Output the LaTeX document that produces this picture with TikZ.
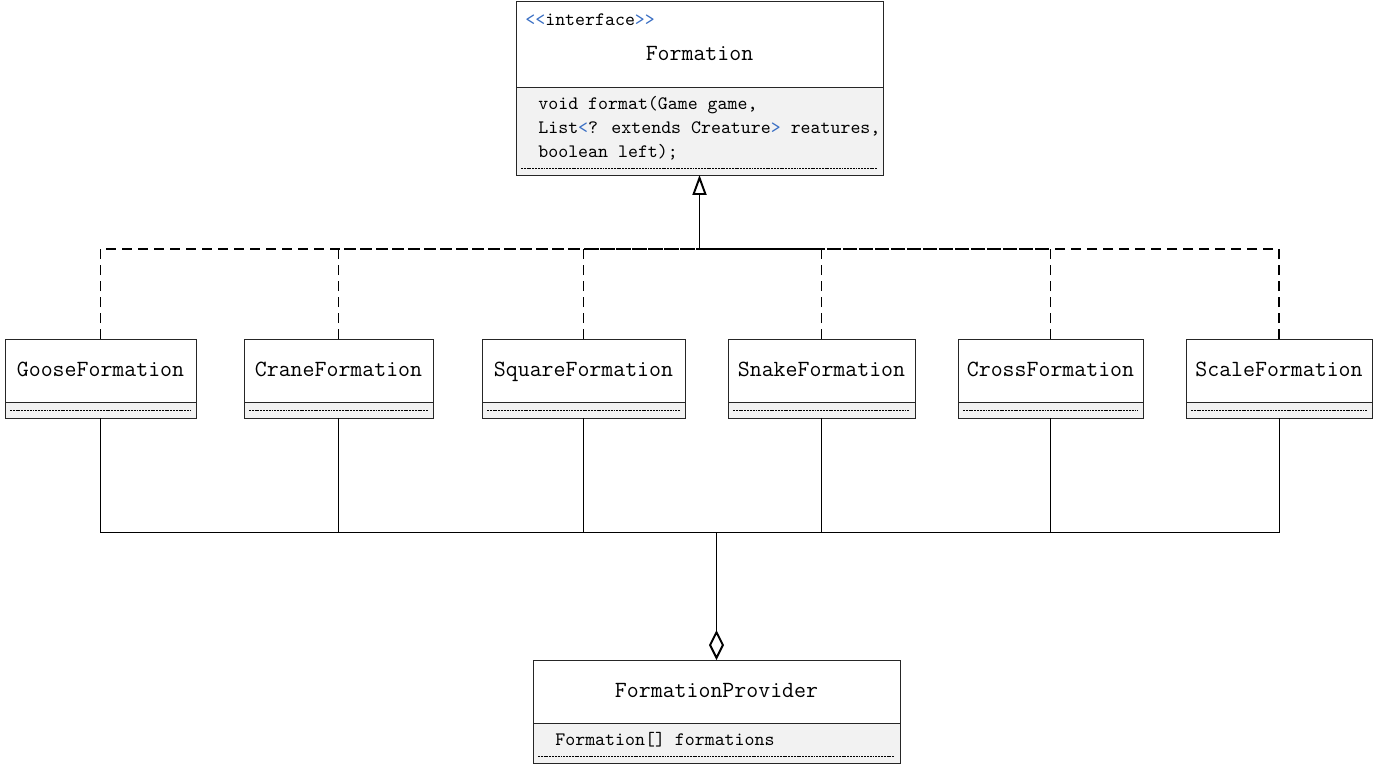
\documentclass[tikz,border=0pt]{standalone}
\usepackage{fontspec}
\usepackage{tikz}
\usetikzlibrary{shapes,arrows,arrows.meta,positioning}
\definecolor{bodygray}{HTML}{F2F2F2}
\definecolor{stereo}{HTML}{3A6FC4}
\tikzstyle{head} = [rectangle, draw=black!85, line width=0.5pt, fill=white, inner sep=0pt, outer sep=0pt, text height=9pt, text depth=2.5pt, font=\fontsize{13.2}{15}\selectfont\ttfamily]
\tikzstyle{body} = [rectangle, draw=black!85, line width=0.5pt, fill=bodygray, inner sep=0pt, outer sep=0pt]
\tikzstyle{small} = [inner sep=0pt, font=\fontsize{10.8}{13.7}\selectfont\ttfamily]
\tikzstyle{dots} = [line width=0.45pt, dash pattern=on 1.1pt off 0.5pt]
\tikzstyle{realize} = [line width=0.8pt, dash pattern=on 0.2cm off 0.12cm]
\tikzstyle{link} = [line width=0.5pt]

\begin{document}
\begin{tikzpicture}[x=0.02cm, y=-0.02cm]
        \useasboundingbox (0,0) rectangle (1374,765);
        % interface
        \node (Fm) [head, minimum width=7.34cm, minimum height=1.72cm] at (699.5,44) {};
        \node (FmT) [head, draw=none, fill=none, yshift=-0.22cm] at (Fm) {Formation};
        \node (FmS) [small, anchor=west] at ([xshift=0.18cm, yshift=-0.38cm]Fm.north west) {\textcolor{stereo}{<<}interface\textcolor{stereo}{>>}};
        \node (FmB) [body, minimum width=7.34cm, minimum height=1.76cm, below=0pt of Fm] {};
        \node (FmM) [small, anchor=west, align=left, yshift=0.06cm] at ([xshift=0.44cm]FmB.west) {void format(Game game,\\
        List\textcolor{stereo}{<}? extends Creature\textcolor{stereo}{>} reatures,\\
        boolean left);};
        \draw [dots] ([xshift=0.1cm, yshift=0.14cm]FmB.south west) -- ([xshift=-0.1cm, yshift=0.14cm]FmB.south east);

        % implementations
        \node (Goose) [head, minimum width=3.82cm, minimum height=1.26cm] at (100.5,370.5) {GooseFormation};
        \node (GooseB) [body, minimum width=3.82cm, minimum height=0.32cm, below=0pt of Goose] {};
        \draw [dots] ([xshift=0.1cm]GooseB.west) -- ([xshift=-0.1cm]GooseB.east);

        \node (Crane) [head, minimum width=3.78cm, minimum height=1.26cm] at (338.5,370.5) {CraneFormation};
        \node (CraneB) [body, minimum width=3.78cm, minimum height=0.32cm, below=0pt of Crane] {};
        \draw [dots] ([xshift=0.1cm]CraneB.west) -- ([xshift=-0.1cm]CraneB.east);

        \node (Square) [head, minimum width=4.06cm, minimum height=1.26cm] at (583.5,370.5) {SquareFormation};
        \node (SquareB) [body, minimum width=4.06cm, minimum height=0.32cm, below=0pt of Square] {};
        \draw [dots] ([xshift=0.1cm]SquareB.west) -- ([xshift=-0.1cm]SquareB.east);

        \node (Snake) [head, minimum width=3.74cm, minimum height=1.26cm] at (821.5,370.5) {SnakeFormation};
        \node (SnakeB) [body, minimum width=3.74cm, minimum height=0.32cm, below=0pt of Snake] {};
        \draw [dots] ([xshift=0.1cm]SnakeB.west) -- ([xshift=-0.1cm]SnakeB.east);

        \node (Cross) [head, minimum width=3.70cm, minimum height=1.26cm] at (1050.5,370.5) {CrossFormation};
        \node (CrossB) [body, minimum width=3.70cm, minimum height=0.32cm, below=0pt of Cross] {};
        \draw [dots] ([xshift=0.1cm]CrossB.west) -- ([xshift=-0.1cm]CrossB.east);

        \node (Scale) [head, minimum width=3.72cm, minimum height=1.26cm] at (1279,370.5) {ScaleFormation};
        \node (ScaleB) [body, minimum width=3.72cm, minimum height=0.32cm, below=0pt of Scale] {};
        \draw [dots] ([xshift=0.1cm]ScaleB.west) -- ([xshift=-0.1cm]ScaleB.east);

        % provider
        \node (Prov) [head, minimum width=7.34cm, minimum height=1.26cm] at (716.5,691.5) {FormationProvider};
        \node (ProvB) [body, minimum width=7.34cm, minimum height=0.8cm, below=0pt of Prov] {};
        \node (ProvA) [small, anchor=west, yshift=0.06cm] at ([xshift=0.44cm]ProvB.west) {Formation[] formations};
        \draw [dots] ([xshift=0.1cm, yshift=0.14cm]ProvB.south west) -- ([xshift=-0.1cm, yshift=0.14cm]ProvB.south east);

        % realization
        \coordinate (up) at (699.5,249);
        \draw [realize] (Goose.north) |- (up);
        \draw [realize] (Crane.north) |- (up);
        \draw [realize] (Square.north) |- (up);
        \draw [realize] (Snake.north) |- (up);
        \draw [realize] (Cross.north) |- (up);
        \draw [realize] (Scale.north) |- (up);
        \draw [line width=1.1pt, -{Triangle[open, width=0.28cm, length=0.4cm]}] (up) -- (FmB.south);

        % aggregation
        \coordinate (down) at (716.5,532);
        \draw [link] (GooseB.south) |- (down);
        \draw [link] (CraneB.south) |- (down);
        \draw [link] (SquareB.south) |- (down);
        \draw [link] (SnakeB.south) |- (down);
        \draw [link] (CrossB.south) |- (down);
        \draw [link] (ScaleB.south) |- (down);
        \draw [line width=1.1pt, -{Diamond[open, width=0.3cm, length=0.6cm]}] (down) -- (Prov.north);
    \end{tikzpicture}
\end{document}
